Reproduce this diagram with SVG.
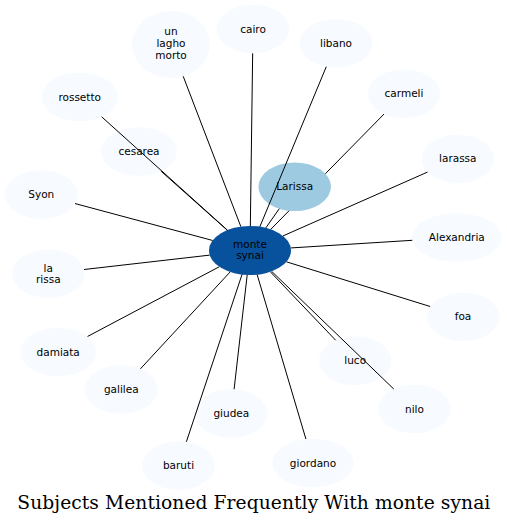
<svg xmlns="http://www.w3.org/2000/svg" width="507" height="526" viewBox="0 0 507 526">
<style>
.n ellipse{fill:#f7fbff;stroke:none}
.n text{font-family:"DejaVu Sans",Verdana,sans-serif;font-size:10.5px;fill:#000;text-anchor:middle}
.e line,.e path{stroke:#000;stroke-width:1;fill:none}
.title{font-family:"DejaVu Serif",serif;font-size:18.67px;fill:#000;text-anchor:middle}
</style>
<rect width="507" height="526" fill="#fff"/>
<g id="nodes">
<g id="node-unlaghomorto" class="n"><ellipse cx="171" cy="44.5" rx="39" ry="33.5"/><text x="171" y="35">un</text><text x="171" y="47.3">lagho</text><text x="171" y="59.3">morto</text></g>
<g id="node-cairo" class="n"><ellipse cx="253" cy="29" rx="36.3" ry="24.3"/><text x="253" y="32.5">cairo</text></g>
<g id="node-libano" class="n"><ellipse cx="336" cy="43.3" rx="36.3" ry="24.3"/><text x="336" y="46.8">libano</text></g>
<g id="node-carmeli" class="n"><ellipse cx="404" cy="93.7" rx="36.3" ry="24.3"/><text x="404" y="97.2">carmeli</text></g>
<g id="node-larassa" class="n"><ellipse cx="457.8" cy="158.7" rx="36.3" ry="24.3"/><text x="457.8" y="162.2">larassa</text></g>
<g id="node-alexandria" class="n"><ellipse cx="456.8" cy="237.5" rx="44.8" ry="24.3"/><text x="456.8" y="241">Alexandria</text></g>
<g id="node-foa" class="n"><ellipse cx="463" cy="316.7" rx="36.3" ry="24.3"/><text x="463" y="320.2">foa</text></g>
<g id="node-nilo" class="n"><ellipse cx="414.5" cy="409" rx="36.3" ry="24.3"/><text x="414.5" y="412.5">nilo</text></g>
<g id="node-luco" class="n"><ellipse cx="355.2" cy="360.7" rx="36.3" ry="24.3"/><text x="355.2" y="364.2">luco</text></g>
<g id="node-giordano" class="n"><ellipse cx="313" cy="463" rx="40.7" ry="24.3"/><text x="313" y="466.5">giordano</text></g>
<g id="node-giudea" class="n"><ellipse cx="231.3" cy="413.5" rx="36.3" ry="24.3"/><text x="231.3" y="417">giudea</text></g>
<g id="node-baruti" class="n"><ellipse cx="178.5" cy="465.5" rx="36.3" ry="24.3"/><text x="178.5" y="469">baruti</text></g>
<g id="node-galilea" class="n"><ellipse cx="121.3" cy="389.5" rx="36.3" ry="24.3"/><text x="121.3" y="393">galilea</text></g>
<g id="node-damiata" class="n"><ellipse cx="58.2" cy="352" rx="38.2" ry="24.3"/><text x="58.2" y="355.5">damiata</text></g>
<g id="node-larissa2" class="n"><ellipse cx="48.3" cy="273.6" rx="36.3" ry="24.3"/><text x="48.3" y="271.7">la</text><text x="48.3" y="282.7">rissa</text></g>
<g id="node-syon" class="n"><ellipse cx="41.3" cy="194.5" rx="36.3" ry="24.3"/><text x="41.3" y="198">Syon</text></g>
<g id="node-rossetto" class="n"><ellipse cx="79.7" cy="97" rx="38" ry="24.3"/><text x="79.7" y="100.5">rossetto</text></g>
<g id="node-cesarea" class="n"><ellipse cx="139" cy="151.5" rx="38" ry="24.3"/><text x="139" y="155">cesarea</text></g>
<g id="node-Larissa" class="n"><ellipse cx="294.7" cy="186.7" rx="36.3" ry="24.3" style="fill:#9ecae1"/><text x="294.7" y="190.2">Larissa</text></g>
<g id="node-montesynai" class="n"><ellipse cx="250" cy="250.5" rx="41" ry="24.5" style="fill:#08519c"/><text x="250" y="247.5">monte</text><text x="250" y="258.8">synai</text></g>
</g>
<g id="connectors" class="e">
<line x1="240.84" y1="226.62" x2="183.2" y2="76.3"/>
<line x1="250.33" y1="226.0" x2="252.67" y2="53.3"/>
<line x1="259.87" y1="226.72" x2="326.28" y2="66.71"/>
<path d="M270.76,229.37 L289.09,210.70 M325.40,173.73 L384.06,114.01"/>
<line x1="282.97" y1="235.93" x2="427.5" y2="172.08"/>
<line x1="290.78" y1="247.94" x2="412.3" y2="240.3"/>
<line x1="286.38" y1="261.81" x2="430.07" y2="306.47"/>
<line x1="271.61" y1="271.32" x2="393.79" y2="389.05"/>
<line x1="270.31" y1="271.78" x2="335.65" y2="340.22"/>
<line x1="257.15" y1="274.62" x2="305.91" y2="439.07"/>
<line x1="247.2" y1="274.94" x2="234.08" y2="389.28"/>
<line x1="242.01" y1="274.53" x2="186.39" y2="441.78"/>
<line x1="230.15" y1="271.94" x2="140.42" y2="368.84"/>
<line x1="219.31" y1="266.74" x2="87.57" y2="336.46"/>
<line x1="209.74" y1="255.11" x2="84.08" y2="269.5"/>
<line x1="212.6" y1="240.46" x2="75.0" y2="203.54"/>
<line x1="227.35" y1="230.08" x2="101.69" y2="116.82"/>
<line x1="227.18" y1="230.15" x2="161.14" y2="171.25"/>
<line x1="265.83" y1="227.9" x2="279.29" y2="208.7"/>
</g>
<text class="title" x="253.8" y="508.7" textLength="473" lengthAdjust="spacing">Subjects Mentioned Frequently With monte synai</text>
</svg>
